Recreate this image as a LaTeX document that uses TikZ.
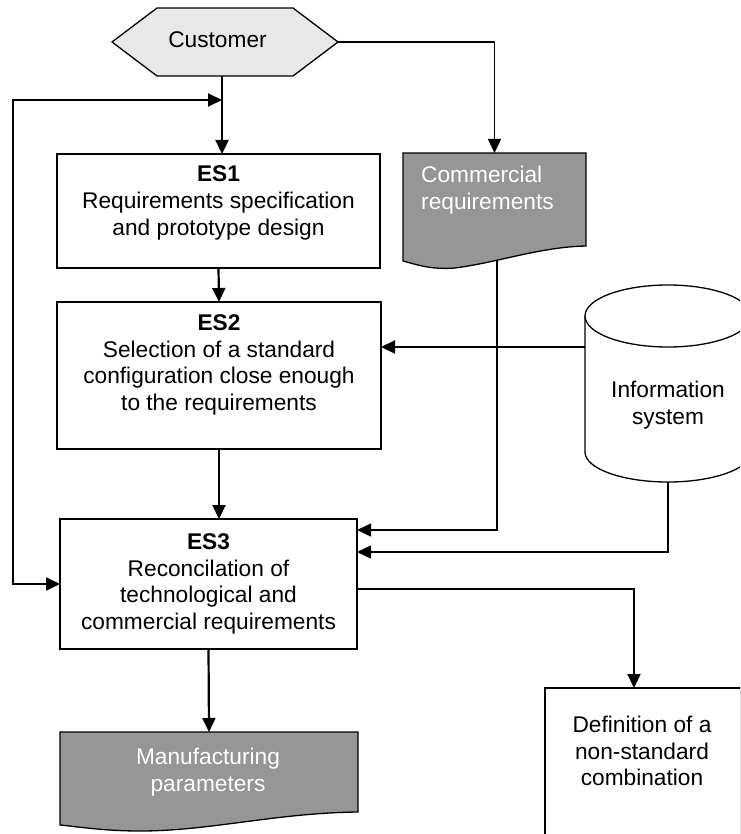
\documentclass[tikz,border=0pt]{standalone}
\usepackage{fontspec}
\setmainfont{Liberation Sans}
\usetikzlibrary{arrows.meta,calc}
\definecolor{custgray}{HTML}{E8E8E8}
\definecolor{docgray}{HTML}{969696}

\begin{document}
\begin{tikzpicture}[x=1pt, y=-1pt, >={Triangle[length=14pt,width=13pt]},
  box/.style={draw, fill=white, line width=1.3pt, inner sep=0pt, outer sep=0pt},
  area/.style={inner sep=0pt, outer sep=0pt},
  txt/.style={align=center, inner sep=0pt, font=\fontsize{22.7}{26.8}\selectfont},
  wtxt/.style={txt, text=white},
  doc/.style={draw, fill=docgray, line width=1.3pt},
  arr/.style={->, line width=2.2pt},
  tarr/.style={->, line width=1.4pt},
  barr/.style={<->, line width=2pt}]
\useasboundingbox (0,0) rectangle (740,834);
\clip (0,0) rectangle (740,834);

\node[area, minimum width=226pt, minimum height=68pt] (cust) at (225,42) {};
\draw[fill=custgray, line width=1.3pt] (cust.west) -- ($(cust.north west)+(45,0)$) -- ($(cust.north east)+(-45,0)$) -- (cust.east) -- ($(cust.south east)+(-45,0)$) -- ($(cust.south west)+(45,0)$) -- cycle;
\node[txt] (custtxt) at (217.5,40) {Customer};

\node[box, minimum width=323pt, minimum height=114pt] (es1) at (218.5,211) {};
\node[txt] (es1txt) at (218.5,203) {\textbf{ES1}\\Requirements specification\\and prototype design};

\node[box, minimum width=324pt, minimum height=147pt] (es2) at (219,375.5) {};
\node[txt] (es2txt) at (219,365) {\textbf{ES2}\\Selection of a standard\\configuration close enough\\to the requirements};

\node[box, minimum width=297pt, minimum height=130pt] (es3) at (208.5,584) {};
\node[txt] (es3txt) at (208.5,584) {\textbf{ES3}\\Reconcilation of\\technological and\\commercial requirements};

\node[area, minimum width=183pt, minimum height=108pt] (comm) at (494.5,207) {};
\draw[doc] (comm.north west) -- (comm.north east) -- (586,246) .. controls (540,247) and (500,262) .. (455,268) .. controls (430,270) and (415,264) .. (comm.south west) -- cycle;
\node[wtxt, align=left, anchor=west] (commtxt) at (421,190) {Commercial\\requirements};
\coordinate (commout) at (497,261);

\node[area, minimum width=166pt, minimum height=197pt] (info) at (668,383.5) {};
\draw[fill=white, line width=1.3pt] ($(info.north west)+(0,31)$) -- ($(info.south west)+(0,-30)$) arc[start angle=180, end angle=360, x radius=83pt, y radius=30pt] -- ($(info.north east)+(0,31)$);
\draw[fill=white, line width=1.3pt] ($(info.north)+(0,31)$) ellipse [x radius=83pt, y radius=31pt];
\node[txt] (infotxt) at (668,405) {Information\\system};

\node[area, minimum width=298pt, minimum height=93pt] (manuf) at (209,778.5) {};
\draw[doc] (manuf.north west) -- (manuf.north east) -- (358,812) .. controls (275,813) and (210,831) .. (140,831) .. controls (105,831) and (80,827) .. (manuf.south west) -- cycle;
\node[wtxt] (manuftxt) at (208,772) {Manufacturing\\parameters};

\node[box, minimum width=196pt, minimum height=162pt] (def) at (643,769) {};
\node[txt] (deftxt) at (642,751) {Definition of a\\non-standard\\combination};

\coordinate (custout) at ($(cust.south)+(-3,0)$);
\coordinate (cjoin) at ($(cust.south)+(-3,24)$);
\coordinate (lturn) at (13,100);
\coordinate (infoout) at ($(info.north west)+(0,62)$);
\coordinate (defin) at ($(def.north west)+(89,0)$);

\draw[arr] (custout) -- (custout |- es1.north);
\draw[tarr] (cust.east) -| (comm.north);
\draw[barr] (cjoin) -- (lturn) |- (es3.west);
\draw[arr] (es1.south) -- (es2.north);
\draw[arr] (infoout) -- (infoout -| es2.east);
\draw[arr] (es2.south) -- (es2.south |- es3.north);
\draw[tarr] (commout) |- ($(es3.north east)+(0,11)$);
\draw[tarr] (info.south) |- ($(es3.north east)+(0,33)$);
\draw[arr] ($(es3.east)+(0,5)$) -| (defin);
\draw[arr] (es3.south) -- (manuf.north);
\end{tikzpicture}
\end{document}
